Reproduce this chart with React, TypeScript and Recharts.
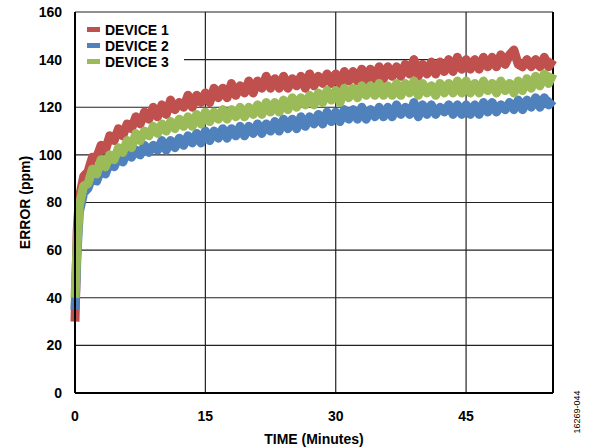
import React from 'react';
import {
  LineChart,
  Line,
  XAxis,
  YAxis,
  CartesianGrid,
  ReferenceLine,
  Customized,
} from 'recharts';

// time stamps in minutes
const time = [
  0, 0.25, 0.5, 1, 1.5, 2, 2.5, 3, 3.5, 4, 4.5, 5, 5.5, 6, 6.5, 7, 7.5, 8, 8.5, 9, 9.5,
  10, 10.5, 11, 11.5, 12, 12.5, 13, 13.5, 14, 14.5, 15, 15.5, 16, 16.5, 17, 17.5, 18, 18.5,
  19, 19.5, 20, 20.5, 21, 21.5, 22, 22.5, 23, 23.5, 24, 24.5, 25, 25.5, 26, 26.5, 27, 27.5,
  28, 28.5, 29, 29.5, 30, 30.5, 31, 31.5, 32, 32.5, 33, 33.5, 34, 34.5, 35, 35.5, 36, 36.5,
  37, 37.5, 38, 38.5, 39, 39.5, 40, 40.5, 41, 41.5, 42, 42.5, 43, 43.5, 44, 44.5, 45, 45.5,
  46, 46.5, 47, 47.5, 48, 48.5, 49, 49.5, 50, 50.5, 51, 51.5, 52, 52.5, 53, 53.5, 54, 54.5, 55,
];

// error in ppm
const device1 = [
  30, 68, 82, 91, 93, 99, 99, 104, 102, 108, 106, 111, 108, 113, 111, 116, 113, 118, 115, 120, 116,
  121, 117, 123, 119, 122, 120, 125, 120, 125, 122, 126, 122, 128, 124, 128, 124, 130, 125,
  129, 126, 131, 126, 131, 128, 133, 128, 132, 128, 133, 128, 132, 129, 133, 128, 134, 129,
  133, 130, 134, 130, 134, 130, 135, 131, 135, 131, 136, 131, 136, 132, 137, 132, 137, 133,
  137, 133, 138, 134, 140, 133, 138, 134, 139, 134, 139, 135, 140, 135, 141, 136, 140, 136,
  140, 136, 141, 137, 141, 137, 142, 138, 142, 144, 138, 137, 140, 137, 140, 137, 141, 137, 140,
];

const device2 = [
  35, 60, 76, 84, 86, 91, 89, 94, 92, 97, 95, 99, 97, 101, 99, 102, 100, 104, 101, 104, 102,
  106, 102, 106, 103, 107, 104, 108, 105, 109, 105, 110, 106, 110, 107, 111, 107, 111, 108,
  112, 108, 112, 109, 113, 109, 113, 110, 114, 110, 115, 111, 115, 111, 116, 112, 116, 113,
  117, 113, 118, 114, 118, 114, 119, 115, 119, 115, 120, 115, 119, 116, 120, 116, 120, 116,
  121, 117, 120, 117, 122, 116, 121, 117, 121, 117, 120, 118, 121, 117, 121, 117, 121, 117,
  121, 117, 122, 118, 122, 118, 121, 119, 122, 119, 123, 119, 123, 120, 124, 120, 124, 121, 123,
];

const device3 = [
  40, 63, 79, 87, 88, 94, 92, 98, 95, 100, 98, 103, 101, 106, 103, 109, 106, 110, 108, 112, 109,
  113, 110, 114, 111, 115, 112, 116, 112, 117, 113, 118, 114, 118, 115, 119, 115, 119, 116,
  120, 116, 120, 117, 121, 117, 122, 118, 122, 118, 123, 119, 124, 120, 124, 121, 125, 121,
  126, 122, 127, 123, 127, 122, 128, 124, 128, 124, 129, 125, 129, 125, 130, 125, 129, 125,
  130, 125, 130, 126, 131, 125, 130, 126, 129, 125, 130, 126, 130, 126, 131, 126, 131, 126,
  130, 126, 131, 127, 130, 126, 131, 127, 130, 126, 131, 127, 132, 128, 133, 129, 134, 130, 134,
];

const yTicks = [0, 20, 40, 60, 80, 100, 120, 140, 160];
const xTicks = [0, 15, 30, 45];

const seriesNames = ['DEVICE 1', 'DEVICE 2', 'DEVICE 3'];
const colors = ['#C0504D', '#4F81BD', '#9BBB59'];

const data = time.map((t, i) => ({
  t,
  d1: device1[i],
  d2: device2[i],
  d3: device3[i],
}));

const font = 'Arial, "Liberation Sans", sans-serif';

// legend drawn in the svg so it doesn't take space from the plot
const LegendBox = () => (
  <g>
    <rect x={76} y={18} width={108} height={52} fill="#fff" />
    {seriesNames.map((name, i) => (
      <g key={name}>
        <rect x={87} y={27 + i * 16} width={13} height={5} fill={colors[i]} />
        <text
          x={105}
          y={34.5 + i * 16}
          fontFamily={font}
          fontWeight="bold"
          fontSize={14}
          fill="#000"
        >
          {name}
        </text>
      </g>
    ))}
  </g>
);

const FigureCode = () => (
  <text
    transform="translate(580,412) rotate(-90)"
    textAnchor="middle"
    fontFamily={font}
    fontSize={9}
    fill="#000"
  >
    16269-044
  </text>
);

const lineProps = {
  type: 'linear' as const,
  strokeWidth: 9,
  strokeLinejoin: 'round' as const,
  dot: false,
  isAnimationActive: false,
};

export default function App() {
  return (
    <div style={{ position: 'absolute', left: 0, top: 0, background: '#fff' }}>
      <LineChart
        width={592}
        height={447}
        data={data}
        margin={{ top: 12, right: 39, bottom: 0, left: 0 }}
      >
        <CartesianGrid stroke="#222" strokeWidth={1.2} />
        <XAxis
          dataKey="t"
          type="number"
          domain={[0, 55]}
          ticks={xTicks}
          height={54}
          stroke="#000"
          strokeWidth={2}
          tickLine={false}
          tickMargin={12}
          tick={{ fill: '#000', fontFamily: font, fontWeight: 'bold', fontSize: 14 }}
          label={{
            value: 'TIME (Minutes)',
            position: 'insideBottom',
            offset: 3,
            fill: '#000',
            fontFamily: font,
            fontWeight: 'bold',
            fontSize: 14,
          }}
        />
        <YAxis
          domain={[0, 160]}
          ticks={yTicks}
          width={75}
          stroke="#000"
          strokeWidth={2}
          tickLine={false}
          tickMargin={7}
          tick={{ fill: '#000', fontFamily: font, fontWeight: 'bold', fontSize: 14 }}
          label={{
            value: 'ERROR (ppm)',
            angle: -90,
            position: 'center',
            dx: -12,
            fill: '#000',
            fontFamily: font,
            fontWeight: 'bold',
            fontSize: 14,
          }}
        />
        <ReferenceLine x={55} stroke="#000" strokeWidth={2} />
        <Line {...lineProps} dataKey="d1" stroke={colors[0]} />
        <Line {...lineProps} dataKey="d2" stroke={colors[1]} />
        <Line {...lineProps} dataKey="d3" stroke={colors[2]} />
        <Customized component={LegendBox} />
        <Customized component={FigureCode} />
      </LineChart>
    </div>
  );
}
